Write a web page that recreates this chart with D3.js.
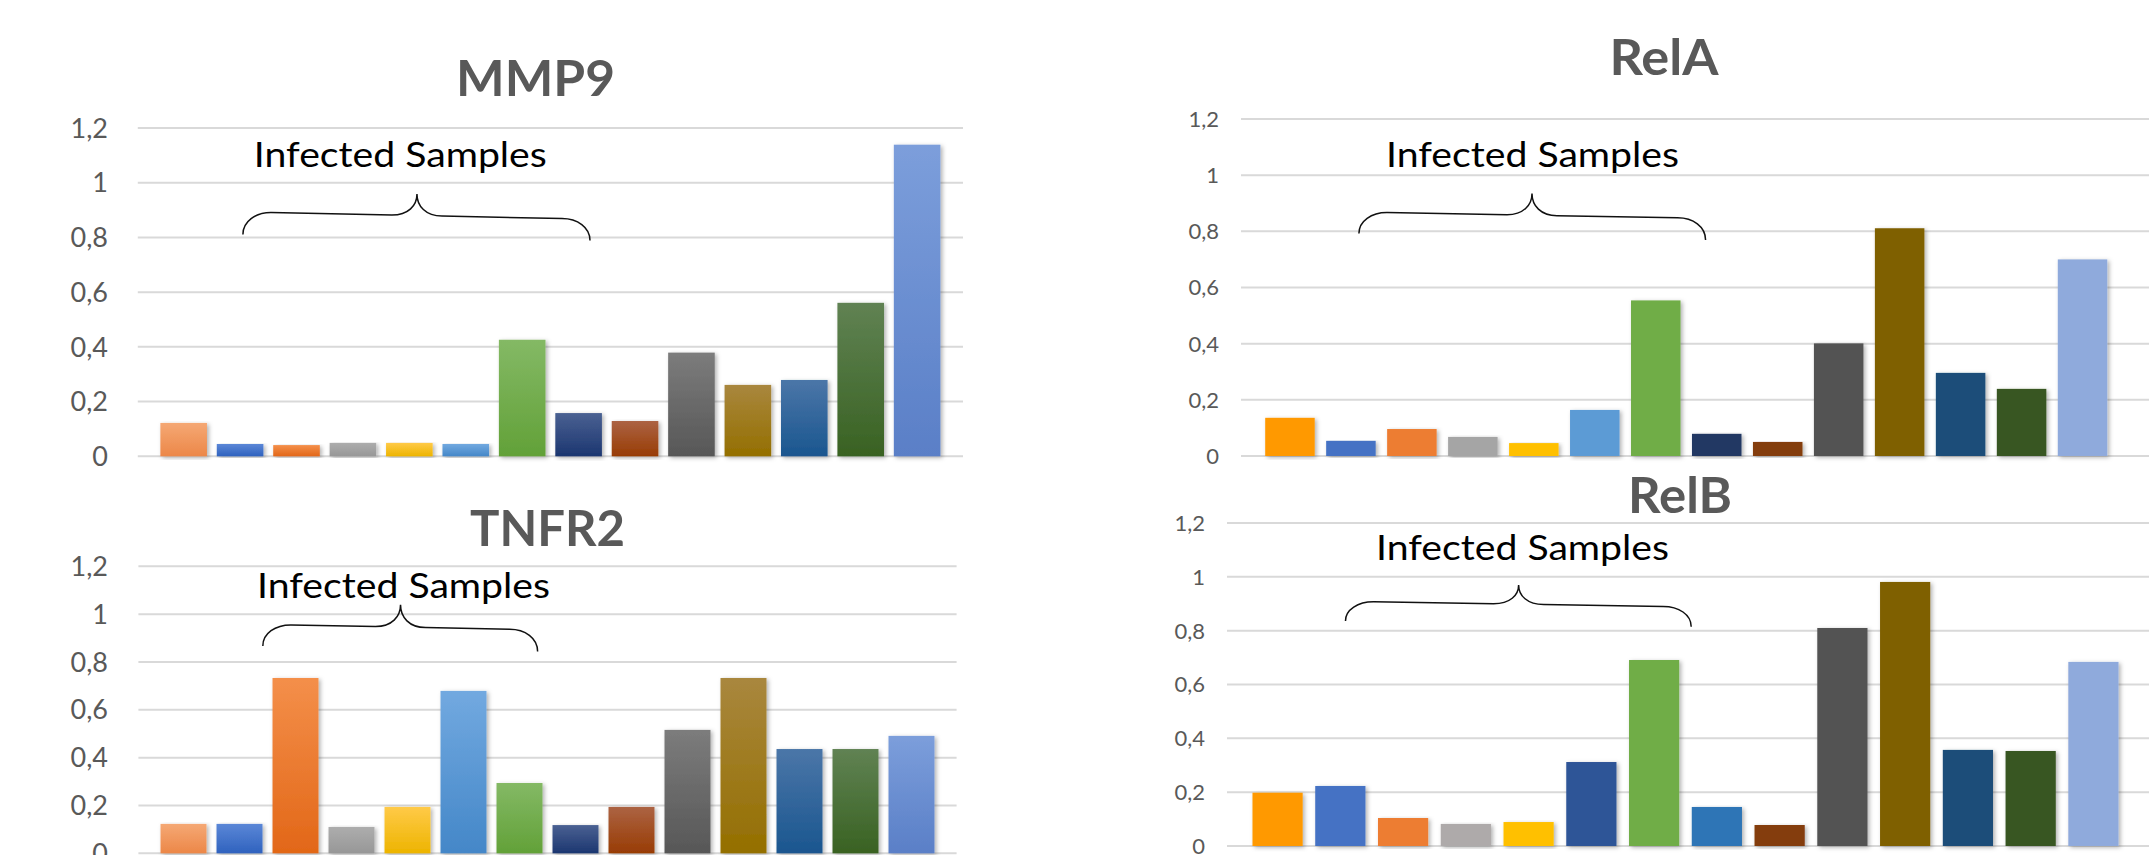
<!DOCTYPE html>
<html>
<head>
<meta charset="utf-8">
<script src="https://cdn.jsdelivr.net/npm/d3@7"></script>
<style>
  html, body { margin: 0; padding: 0; background: #ffffff; }
  svg { display: block; }
  text { font-family: "Lato", "Open Sans", sans-serif; }
</style>
</head>
<body>
<svg id="chart" width="2149" height="855"></svg>
<script>
// ---- data ----
const samples = ["S1","S2","S3","S4","S5","S6","S7","S8","S9","S10","S11","S12","S13","S14"];
const yTickValues = [0, 0.2, 0.4, 0.6, 0.8, 1, 1.2];
const yTickLabels = ["0", "0,2", "0,4", "0,6", "0,8", "1", "1,2"];
const annotationText = "Infected Samples";

const mmp9Values  = [0.122, 0.045, 0.041, 0.049, 0.049, 0.045, 0.426, 0.158, 0.129, 0.379, 0.261, 0.279, 0.561, 1.139];
const tnfr2Values = [0.123, 0.123, 0.733, 0.110, 0.194, 0.679, 0.294, 0.118, 0.194, 0.516, 0.733, 0.436, 0.436, 0.491];
const relaValues  = [0.136, 0.054, 0.096, 0.068, 0.046, 0.164, 0.554, 0.079, 0.050, 0.401, 0.811, 0.296, 0.239, 0.700];
const relbValues  = [0.198, 0.223, 0.104, 0.082, 0.089, 0.312, 0.691, 0.145, 0.078, 0.810, 0.981, 0.357, 0.353, 0.684];

// ---- styles ----
// gradient fills (top, bottom) used by the MMP9 and TNFR2 charts
const gradTop    = ["#F5A874","#5B87D7","#F48F4A","#ADADAD","#FFCA48","#72A9E0","#84B965","#4A6192","#AC6343","#7C7C7C","#A9873E","#4B76A8","#608253","#7C9EDB"];
const gradBottom = ["#EC8748","#2F62BE","#E26718","#979797","#EDB400","#4487C8","#62A138","#1C3670","#983C04","#575757","#946F00","#1A568F","#396222","#5A7FC7"];
// flat fills for RelA and RelB
const relaColors = ["#FF9900","#4472C4","#ED7D31","#A5A5A5","#FFC000","#5B9BD5","#70AD47","#203864","#843C0C","#525252","#7F6000","#1F4E79","#385723","#8FAADC"];
const relbColors = ["#FF9900","#4472C4","#ED7D31","#AEAAAA","#FFC000","#2F5597","#70AD47","#2E75B6","#843C0C","#525252","#7F6000","#1F4E79","#385723","#8FAADC"];

const svg = d3.select("#chart");
const defs = svg.append("defs");

// soft bar shadow
const shadow = defs.append("filter").attr("id", "barShadow")
  .attr("x", "-20%").attr("y", "-5%").attr("width", "150%").attr("height", "115%");
shadow.append("feDropShadow")
  .attr("dx", 2).attr("dy", 1.5).attr("stdDeviation", 2)
  .attr("flood-color", "#000").attr("flood-opacity", 0.3);

gradTop.forEach((c, i) => {
  const g = defs.append("linearGradient").attr("id", "grad" + i)
    .attr("x1", 0).attr("y1", 0).attr("x2", 0).attr("y2", 1);
  g.append("stop").attr("offset", "0%").attr("stop-color", c);
  g.append("stop").attr("offset", "100%").attr("stop-color", gradBottom[i]);
});

// ---- panel layout ----
const panels = [
  { title: "MMP9", values: mmp9Values, fill: (d, i) => `url(#grad${i})`,
    gridX: [137.8, 963], band: [137.8, 963], padIn: 0.174, padOut: 0.40,
    yPx: [456.3, 128], labelX: 108, tickSize: 27,
    titleX: 535.5, titleY: 96, titleW: 159, noteX: 253.8, noteY: 166.7,
    brace: { l: [1.463, 0.811], sl: 0.891, t: [4.548, 0.959], sr: 0.869, r: [7.615, 0.789] } },
  { title: "RelA", values: relaValues, fill: (d, i) => relaColors[i],
    gridX: [1241, 2149], band: [1241, 2131.5], padIn: 0.188, padOut: 0.397,
    yPx: [456, 119], labelX: 1219, tickSize: 22,
    titleX: 1664, titleY: 75, titleW: 109, noteX: 1386, noteY: 166.7,
    brace: { l: [1.537, 0.792], sl: 0.867, t: [4.376, 0.935], sr: 0.848, r: [7.223, 0.769] } },
  { title: "TNFR2", values: tnfr2Values, fill: (d, i) => `url(#grad${i})`,
    gridX: [138.4, 956.6], band: [138.4, 956.6], padIn: 0.179, padOut: 0.395,
    yPx: [853.3, 566.3], labelX: 108, tickSize: 27,
    titleX: 547.5, titleY: 546, titleW: 155, noteX: 257, noteY: 598.3,
    brace: { l: [1.827, 0.867], sl: 0.955, t: [4.286, 1.039], sr: 0.937, r: [6.734, 0.844] } },
  { title: "RelB", values: relbValues, fill: (d, i) => relbColors[i],
    gridX: [1227, 2149], band: [1227, 2144], padIn: 0.20, padOut: 0.406,
    yPx: [846, 523], labelX: 1205, tickSize: 22,
    titleX: 1680, titleY: 513.3, titleW: 104, noteX: 1376, noteY: 560,
    brace: { l: [1.482, 0.836], sl: 0.907, t: [4.241, 0.970], sr: 0.890, r: [6.991, 0.815] } }
];

function bracePath(b, x, y, step) {
  const xAt = p => x(samples[0]) + p * step;
  const xl = xAt(b.l[0]), yl = y(b.l[1]);
  const xr = xAt(b.r[0]), yr = y(b.r[1]);
  const xt = xAt(b.t[0]), yt = y(b.t[1]);
  const ysl = y(b.sl), ysr = y(b.sr);
  const dx = 28, dt = 25;
  const yAtLine = xx => ysl + (ysr - ysl) * (xx - (xl + dx)) / ((xr - dx) - (xl + dx));
  const yC = yAtLine(xt - dt), yD = yAtLine(xt + dt);
  return [
    `M${xl},${yl}`,
    `C${xl},${ysl + (yl - ysl) * 0.4} ${xl + dx * 0.45},${ysl} ${xl + dx},${ysl}`,
    `L${xt - dt},${yC}`,
    `C${xt - dt * 0.35},${yC} ${xt},${yC - (yC - yt) * 0.45} ${xt},${yt}`,
    `C${xt},${yD - (yD - yt) * 0.45} ${xt + dt * 0.35},${yD} ${xt + dt},${yD}`,
    `L${xr - dx},${ysr}`,
    `C${xr - dx * 0.45},${ysr} ${xr},${ysr + (yr - ysr) * 0.4} ${xr},${yr}`
  ].join(" ");
}

panels.forEach(p => {
  const g = svg.append("g");
  const x = d3.scaleBand().domain(samples).range(p.band)
    .paddingInner(p.padIn).paddingOuter(p.padOut);
  const y = d3.scaleLinear().domain([0, 1.2]).range(p.yPx);

  // horizontal gridlines
  g.append("g").selectAll("line").data(yTickValues).join("line")
    .attr("x1", p.gridX[0]).attr("x2", p.gridX[1])
    .attr("y1", d => y(d)).attr("y2", d => y(d))
    .attr("stroke", "#D9D9D9").attr("stroke-width", 2);

  // y axis labels
  const axis = d3.axisLeft(y).tickValues(yTickValues)
    .tickFormat((d, i) => yTickLabels[i]).tickSize(0).tickPadding(0);
  const ax = g.append("g").attr("transform", `translate(${p.labelX},0)`).call(axis);
  ax.select(".domain").remove();
  ax.selectAll("text")
    .attr("font-family", "Lato, sans-serif")
    .attr("font-size", p.tickSize)
    .attr("fill", "#595959")
    .attr("dy", "0.34em");

  // bars
  g.append("g").selectAll("rect").data(p.values).join("rect")
    .attr("x", (d, i) => x(samples[i]))
    .attr("width", x.bandwidth())
    .attr("y", d => y(d))
    .attr("height", d => y(0) - y(d))
    .attr("fill", p.fill)
    .attr("filter", "url(#barShadow)");

  // title
  g.append("text")
    .attr("x", p.titleX).attr("y", p.titleY)
    .attr("text-anchor", "middle")
    .attr("font-size", 50).attr("font-weight", 700)
    .attr("fill", "#595959")
    .attr("textLength", p.titleW).attr("lengthAdjust", "spacingAndGlyphs")
    .text(p.title);

  // annotation text and brace
  g.append("text")
    .attr("x", p.noteX).attr("y", p.noteY)
    .attr("font-size", 35)
    .attr("fill", "#000")
    .attr("textLength", 293).attr("lengthAdjust", "spacingAndGlyphs")
    .text(annotationText);

  g.append("path")
    .attr("d", bracePath(p.brace, x, y, x.step()))
    .attr("fill", "none").attr("stroke", "#111").attr("stroke-width", 1.5);
});
</script>
</body>
</html>
